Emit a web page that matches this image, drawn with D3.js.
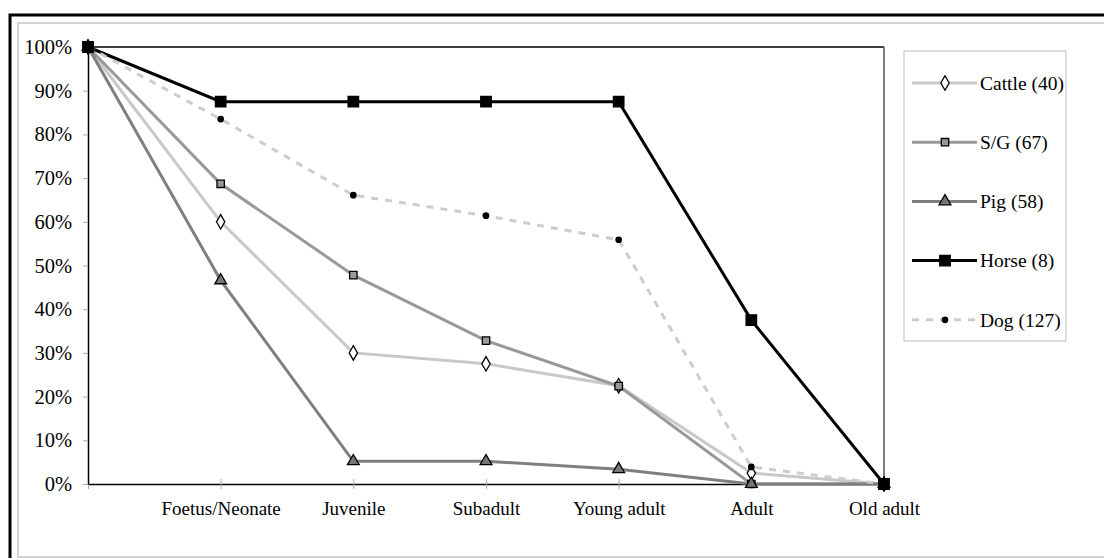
<!DOCTYPE html>
<html>
<head>
<meta charset="utf-8">
<script src="https://cdn.jsdelivr.net/npm/d3@7"></script>
<style>
  body { margin: 0; background: #fff; }
  svg text { font-family: "Liberation Serif", "DejaVu Serif", serif; fill: #000; }
</style>
</head>
<body>
<div id="canvas"></div>
<script>
// categorias (la primera no tiene etiqueta)
const stages = ["", "Foetus/Neonate", "Juvenile", "Subadult", "Young adult", "Adult", "Old adult"];
const yTicks = [0, 10, 20, 30, 40, 50, 60, 70, 80, 90, 100];

// valores en % por serie
const cattle = [100, 60, 30, 27.5, 22.5, 2.5, 0];
const sheepGoat = [100, 68.7, 47.8, 32.8, 22.4, 0, 0];
const pig = [100, 46.6, 5.2, 5.2, 3.4, 0, 0];
const horse = [100, 87.5, 87.5, 87.5, 87.5, 37.5, 0];
const dog = [100, 83.5, 66.1, 61.4, 55.9, 3.9, 0];

const seriesNames = ["Cattle (40)", "S/G (67)", "Pig (58)", "Horse (8)", "Dog (127)"];

const series = [
  { name: seriesNames[0], values: cattle, stroke: "#c8c8c8", dash: null, marker: "diamond", fill: "#fff", size: 60 },
  { name: seriesNames[1], values: sheepGoat, stroke: "#999", dash: null, marker: "square", fill: "#999", size: 55 },
  { name: seriesNames[2], values: pig, stroke: "#7f7f7f", dash: null, marker: "triangle", fill: "#777", size: 60 },
  { name: seriesNames[3], values: horse, stroke: "#000", dash: null, marker: "square", fill: "#000", size: 110 },
  { name: seriesNames[4], values: dog, stroke: "#cdcdcd", dash: "7,7", marker: "circle", fill: "#000", size: 35 }
];

const width = 1104;
const height = 558;
const margin = { top: 47, left: 88, bottom: 74, right: 220 };
const iwidth = 884 - margin.left;
const iheight = 484 - margin.top;

const svg = d3.select("#canvas").append("svg")
  .attr("width", width)
  .attr("height", height);

// marcos exteriores
svg.append("rect")
  .attr("x", 18).attr("y", 23)
  .attr("width", 1100).attr("height", 534)
  .attr("fill", "none").attr("stroke", "#d3d3d3").attr("stroke-width", 2);
svg.append("rect")
  .attr("x", 10).attr("y", 15)
  .attr("width", 1110).attr("height", 560)
  .attr("fill", "none").attr("stroke", "#000").attr("stroke-width", 3);

const g = svg.append("g")
  .attr("transform", `translate(${margin.left},${margin.top})`);

const x = d3.scalePoint()
  .domain(stages)
  .range([0, iwidth]);

const y = d3.scaleLinear()
  .domain([0, 100])
  .range([iheight, 0]);

// borde del area del grafico
g.append("line")
  .attr("x1", 0).attr("x2", iwidth).attr("y1", 0).attr("y2", 0)
  .attr("stroke", "#000").attr("stroke-width", 1.5);
g.append("line")
  .attr("x1", iwidth).attr("x2", iwidth).attr("y1", 0).attr("y2", iheight)
  .attr("stroke", "#555").attr("stroke-width", 1.5);

// ejes
const xAxis = g.append("g")
  .attr("transform", `translate(0,${iheight})`)
  .call(d3.axisBottom(x).tickSizeInner(6).tickSizeOuter(0).tickPadding(12));
xAxis.select(".domain").attr("stroke", "#000").attr("stroke-width", 1.5);
xAxis.selectAll(".tick line").attr("stroke", "#aaa").attr("y1", -5).attr("y2", 5);
xAxis.selectAll(".tick text").attr("font-size", 19);

const yAxis = g.append("g")
  .call(d3.axisLeft(y).tickValues(yTicks).tickFormat(d => d + "%").tickSizeInner(5).tickSizeOuter(0).tickPadding(11));
yAxis.select(".domain").attr("stroke", "#000").attr("stroke-width", 1.5);
yAxis.selectAll(".tick line").attr("stroke", "#aaa");
yAxis.selectAll(".tick text").attr("font-size", 20.5);

const line = d3.line()
  .x((d, i) => x(stages[i]))
  .y(d => y(d));

const symbolType = {
  diamond: d3.symbolDiamond,
  square: d3.symbolSquare,
  triangle: d3.symbolTriangle,
  circle: d3.symbolCircle
};

// lineas
series.forEach(s => {
  g.append("path")
    .datum(s.values)
    .attr("fill", "none")
    .attr("stroke", s.stroke)
    .attr("stroke-width", 3)
    .attr("stroke-dasharray", s.dash)
    .attr("d", line);
});

// marcadores
series.forEach(s => {
  g.selectAll(null)
    .data(s.values)
    .enter()
    .append("path")
    .attr("transform", (d, i) => `translate(${x(stages[i])},${y(d)})`)
    .attr("d", d3.symbol().type(symbolType[s.marker]).size(s.size))
    .attr("fill", s.fill)
    .attr("stroke", s.marker === "circle" ? "none" : "#000")
    .attr("stroke-width", 1.3);
});

// leyenda
const legend = svg.append("g");
legend.append("rect")
  .attr("x", 904).attr("y", 51)
  .attr("width", 162).attr("height", 290)
  .attr("fill", "#fff").attr("stroke", "#bbb").attr("stroke-width", 1);

const item = legend.selectAll(".legend")
  .data(series)
  .enter()
  .append("g")
  .attr("class", "legend")
  .attr("transform", (d, i) => `translate(0,${83 + i * 59.2})`);

item.append("line")
  .attr("x1", 912).attr("x2", 977)
  .attr("stroke", d => d.stroke)
  .attr("stroke-width", 3)
  .attr("stroke-dasharray", d => d.dash);

item.append("path")
  .attr("transform", "translate(945,0)")
  .attr("d", d => d3.symbol().type(symbolType[d.marker]).size(d.size)())
  .attr("fill", d => d.fill)
  .attr("stroke", d => d.marker === "circle" ? "none" : "#000")
  .attr("stroke-width", 1.3);

item.append("text")
  .attr("x", 980)
  .attr("dy", "0.35em")
  .attr("font-size", 19.5)
  .text(d => d.name);
</script>
</body>
</html>
